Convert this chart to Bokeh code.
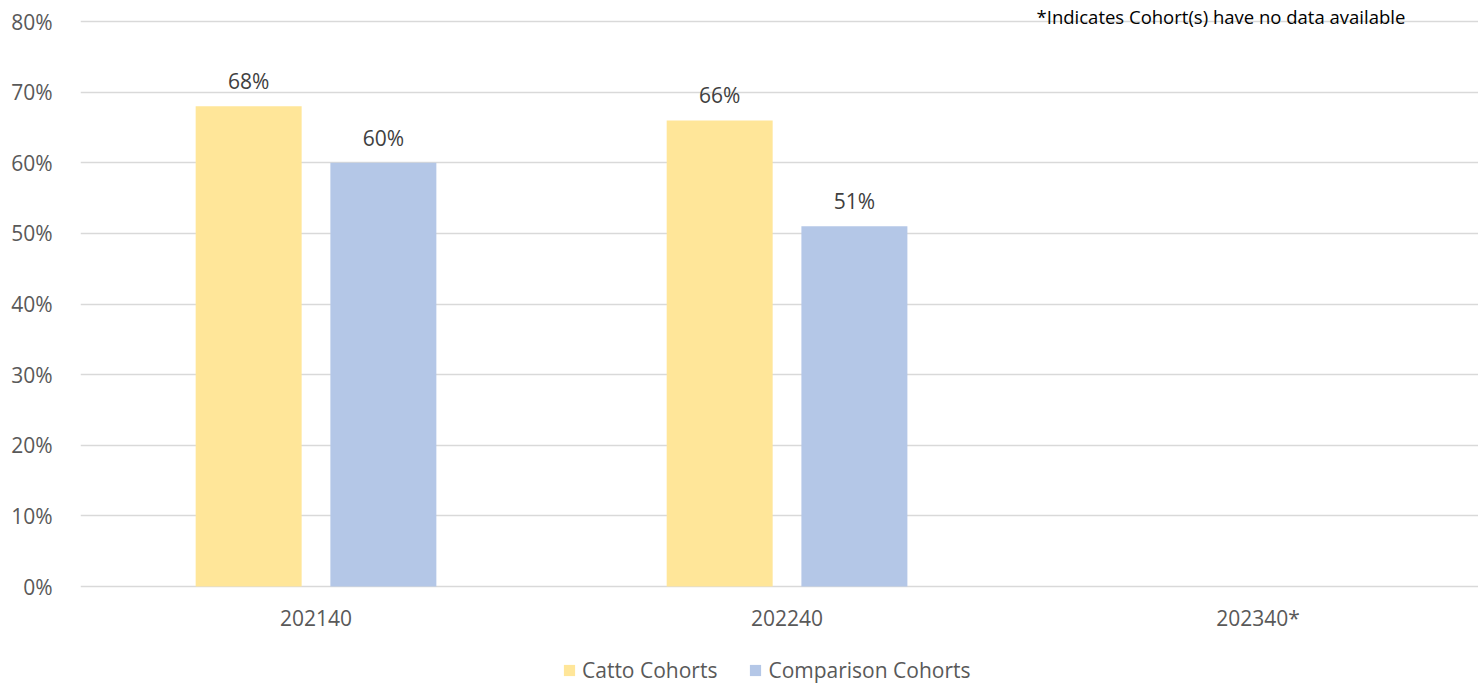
from bokeh.plotting import figure
from bokeh.models import (ColumnDataSource, NumeralTickFormatter, FixedTicker,
                          Legend, LegendItem, Label, Range1d)
from bokeh.embed import file_html
from bokeh.resources import INLINE
from bokeh.core.properties import value

# ---- data ----
categories = ["202140", "202240", "202340*"]
catto = [0.68, 0.66, None]
comparison = [0.60, 0.51, None]
series_names = ["Catto Cohorts", "Comparison Cohorts"]
y_ticks = [0.0, 0.1, 0.2, 0.3, 0.4, 0.5, 0.6, 0.7, 0.8]
note = "*Indicates Cohort(s) have no data available"

# ---- style ----
FONT = "Open Sans"
YELLOW = "#FFE699"
BLUE = "#B4C7E7"
GRID = "#D9D9D9"
TXT = "#595959"
LBL = "#404040"
OFFSET = 0.143
BAR_W = 0.225
PX_PER_UNIT = 706.25  # 565 px for 0..0.8

centers = [i + 0.5 for i in range(len(categories))]

def make_src(vals, off):
    xs, tops, labels = [], [], []
    for c, v in zip(centers, vals):
        if v is None:
            continue
        xs.append(c + off)
        tops.append(v)
        labels.append(f"{round(v * 100)}%")
    return ColumnDataSource(dict(x=xs, top=tops, label=labels))

src_a = make_src(catto, -OFFSET)
src_b = make_src(comparison, OFFSET)
cat_src = ColumnDataSource(dict(x=centers, y=[0] * len(centers), name=categories))

p = figure(width=1478, height=684, output_backend="svg", toolbar_location=None,
           x_range=Range1d(0, 2.968),
           y_range=Range1d(-98 / PX_PER_UNIT, 0.8 + 21 / PX_PER_UNIT),
           min_border_left=80, min_border_right=0, min_border_top=0,
           min_border_bottom=0)
p.outline_line_color = None
p.background_fill_color = "white"
p.border_fill_color = "white"

r1 = p.vbar(x="x", top="top", width=BAR_W, source=src_a, fill_color=YELLOW, line_color=None)
r2 = p.vbar(x="x", top="top", width=BAR_W, source=src_b, fill_color=BLUE, line_color=None)

for s in (src_a, src_b):
    p.text(x="x", y="top", text="label", source=s, y_offset=-25,
           text_align="center", text_baseline="middle",
           text_font=value(FONT), text_font_size="21px", text_color=LBL)

# category labels (x axis)
p.text(x="x", y="y", text="name", source=cat_src, y_offset=31,
       text_align="center", text_baseline="middle",
       text_font=value(FONT), text_font_size="21px", text_color=TXT)
p.xaxis.visible = False

# y axis
p.xgrid.grid_line_color = None
p.ygrid.ticker = FixedTicker(ticks=y_ticks)
p.ygrid.grid_line_color = GRID
p.ygrid.grid_line_width = 1.5
p.yaxis.ticker = FixedTicker(ticks=y_ticks)
p.yaxis.formatter = NumeralTickFormatter(format="0%")
p.yaxis.axis_line_color = None
p.yaxis.major_tick_line_color = None
p.yaxis.minor_tick_line_color = None
p.yaxis.major_label_standoff = 22
p.yaxis.major_label_text_font = FONT
p.yaxis.major_label_text_font_size = "21px"
p.yaxis.major_label_text_color = TXT

# note
p.add_layout(Label(x=(1036 - 80) / 471, y=0.8 + 5 / PX_PER_UNIT, text=note,
                   text_baseline="middle", text_align="left", text_font=FONT,
                   text_font_size="18.5px", text_color="black"))

legend = Legend(items=[LegendItem(label=series_names[0], renderers=[r1]),
                       LegendItem(label=series_names[1], renderers=[r2])],
                orientation="horizontal", location=(482, 0),
                glyph_width=14, glyph_height=14, label_standoff=6, spacing=31,
                padding=0, margin=0, label_height=20,
                label_text_font=FONT, label_text_font_size="21px",
                label_text_color=TXT, border_line_color=None,
                background_fill_alpha=0)
p.add_layout(legend, "center")

open("out.html", "w").write(file_html(p, INLINE))
